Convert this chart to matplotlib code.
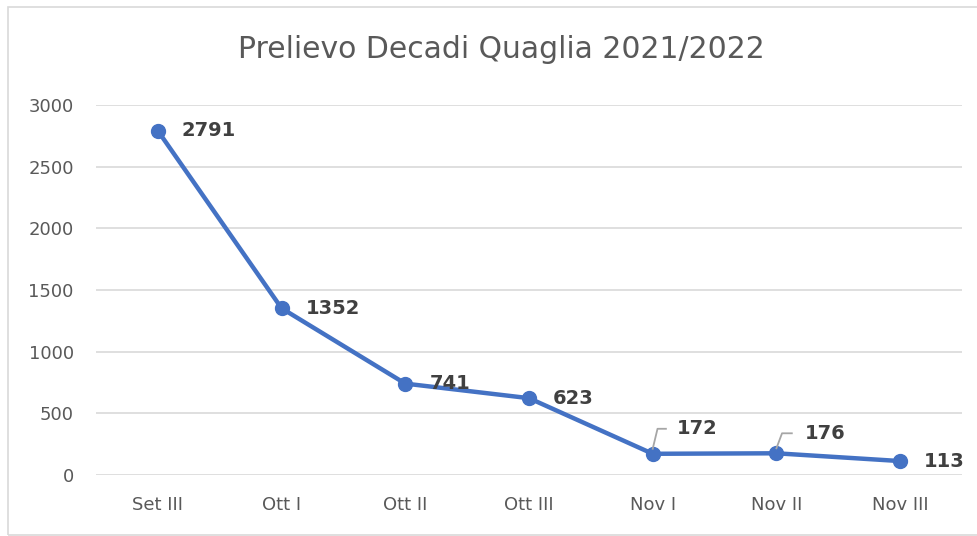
import matplotlib.pyplot as plt
from matplotlib.patches import Rectangle

categories = ["Set III", "Ott I", "Ott II", "Ott III", "Nov I", "Nov II", "Nov III"]
values = [2791, 1352, 741, 623, 172, 176, 113]
yticks = [0, 500, 1000, 1500, 2000, 2500, 3000]

W, H = 978, 536
fig = plt.figure(figsize=(W / 100, H / 100), dpi=100)
plt.rcParams['font.family'] = ['DejaVu Sans']

# chart border (right side runs off the picture)
fig.add_artist(Rectangle((8 / W, 1 - 535 / H), 1.0, (535 - 7) / H,
                         transform=fig.transFigure, fill=False,
                         edgecolor="#D9D9D9", linewidth=1.2))

ax = fig.add_axes([96 / W, 1 - 475 / H, (962 - 96) / W, (475 - 105) / H])
x = list(range(len(categories)))
ax.plot(x, values, color="#4472C4", linewidth=3.2, marker="o", markersize=10,
        solid_capstyle="round", zorder=3)

ax.set_xlim(-0.5, len(categories) - 0.5)
ax.set_ylim(0, 3000)
ax.set_yticks(yticks)
ax.set_xticks(x)
ax.set_xticklabels(categories)
ax.grid(axis="y", color="#D9D9D9", linewidth=1.2)
ax.set_axisbelow(True)
for s in ax.spines.values():
    s.set_visible(False)
ax.tick_params(length=0, labelsize=13, colors="#595959", pad=15)
ax.tick_params(axis="y", pad=16)

fig.text(0.513, 1 - 50 / H, "Prelievo Decadi Quaglia 2021/2022", ha="center",
         va="center", fontsize=21.5, color="#595959")

# data labels: (dx, dy) in pixels, leader line for moved labels
offsets = [(24, 0), (24, 0), (24, 0), (24, 0), (24, 25), (28, 20), (24, 0)]
leader = [False, False, False, False, True, True, False]
for i, v in enumerate(values):
    dx, dy = offsets[i]
    ax.annotate(str(v), (i, v), xytext=(dx, dy), textcoords="offset pixels",
                ha="left", va="center", fontsize=14, fontweight="bold",
                color="#404040")

fig.canvas.draw()
for i, v in enumerate(values):
    if not leader[i]:
        continue
    dx, dy = offsets[i]
    px, py = ax.transData.transform((i, v))
    xs = [px, px + dx * 0.2, px + dx * 0.55]
    ys = [py + 5, py + dy, py + dy]
    fig.add_artist(plt.Line2D(xs, ys, transform=None, color="#A6A6A6",
                              linewidth=1.3, zorder=4))

fig.savefig("out.png", dpi=100)
